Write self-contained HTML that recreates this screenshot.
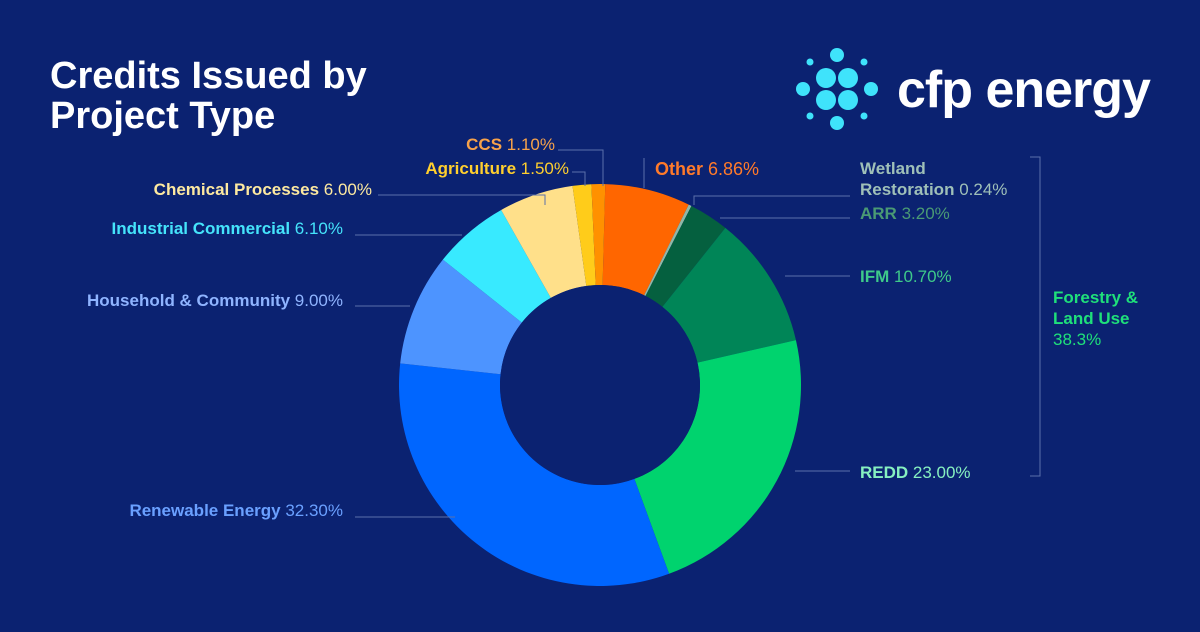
<!DOCTYPE html>
<html><head><meta charset="utf-8"><style>
body{margin:0;width:1200px;height:627px;background:#0b2271;overflow:hidden;font-family:"Liberation Sans",sans-serif}
</style></head><body>
<svg id="s" width="1200" height="627" xmlns="http://www.w3.org/2000/svg">
<rect width="1200" height="627" fill="#0b2271"/>
<text x="50" y="88" fill="#fff" font-size="38" font-weight="bold">Credits Issued by</text>
<text x="50" y="128" fill="#fff" font-size="38" font-weight="bold">Project Type</text>
<g fill="#3fe3fb">
<circle cx="837" cy="55" r="7"/><circle cx="837" cy="123" r="7"/>
<circle cx="803" cy="89" r="7"/><circle cx="871" cy="89" r="7"/>
<circle cx="810" cy="62" r="3.5"/><circle cx="864" cy="62" r="3.5"/>
<circle cx="810" cy="116" r="3.5"/><circle cx="864" cy="116" r="3.5"/>
<circle cx="826" cy="78" r="10"/><circle cx="848" cy="78" r="10"/>
<circle cx="826" cy="100" r="10"/><circle cx="848" cy="100" r="10"/>
</g>
<text x="897" y="107" fill="#fff" font-size="52" font-weight="bold" letter-spacing="-1">cfp energy</text>
<g id="pie"></g>
<g stroke="#5b70aa" stroke-width="1" fill="none">
<polyline points="558,150 603,150 603,186"/>
<polyline points="572,172 585,172 585,186"/>
<polyline points="378,195 545,195 545,205"/>
<line x1="355" y1="235" x2="462" y2="235"/>
<line x1="355" y1="306" x2="410" y2="306"/>
<line x1="355" y1="517" x2="455" y2="517"/>
<line x1="644" y1="158" x2="644" y2="188"/>
<polyline points="694,205 694,196 850,196"/>
<line x1="720" y1="218" x2="850" y2="218"/>
<line x1="785" y1="276" x2="850" y2="276"/>
<line x1="795" y1="471" x2="850" y2="471"/>
<polyline points="1030,157 1040,157 1040,476 1030,476"/>
</g>
<g font-size="17">
<text x="555" y="150" text-anchor="end" fill="#f7a24a"><tspan font-weight="bold">CCS</tspan> 1.10%</text>
<text x="569" y="174" text-anchor="end" fill="#ffcf2e"><tspan font-weight="bold">Agriculture</tspan> 1.50%</text>
<text x="372" y="195" text-anchor="end" fill="#fde9a0"><tspan font-weight="bold">Chemical Processes</tspan> 6.00%</text>
<text x="343" y="234" text-anchor="end" fill="#45e4fb"><tspan font-weight="bold">Industrial Commercial</tspan> 6.10%</text>
<text x="343" y="306" text-anchor="end" fill="#8fb4ff"><tspan font-weight="bold">Household &amp; Community</tspan> 9.00%</text>
<text x="343" y="516" text-anchor="end" fill="#6aa0ff"><tspan font-weight="bold">Renewable Energy</tspan> 32.30%</text>
<text x="655" y="175" fill="#ff7a2a" font-size="18"><tspan font-weight="bold">Other</tspan> 6.86%</text>
<text x="860" y="174" fill="#9fc0b8"><tspan font-weight="bold">Wetland</tspan></text>
<text x="860" y="195" fill="#9fc0b8"><tspan font-weight="bold">Restoration</tspan> 0.24%</text>
<text x="860" y="219" fill="#4a9a74"><tspan font-weight="bold">ARR</tspan> 3.20%</text>
<text x="860" y="282" fill="#3ec98a"><tspan font-weight="bold">IFM</tspan> 10.70%</text>
<text x="860" y="478" fill="#86f0c0"><tspan font-weight="bold">REDD</tspan> 23.00%</text>
<text x="1053" y="303" fill="#1fe07a" font-weight="bold">Forestry &amp;</text>
<text x="1053" y="324" fill="#1fe07a" font-weight="bold">Land Use</text>
<text x="1053" y="345" fill="#1fe07a">38.3%</text>
</g>
</svg>
<script>
var d=[[6.86,"#ff6600"],[0.24,"#8fb8a8"],[3.2,"#05603f"],[10.7,"#008557"],[23,"#00d36e"],[32.3,"#0066ff"],[9,"#4d94ff"],[6.1,"#38eaff"],[6,"#ffe08a"],[1.5,"#ffcc1a"],[1.1,"#ff9100"]];
var cx=600,cy=385,R=201,r=100,a=1.5,h="";
function p(ang,rad){var t=ang*Math.PI/180;return (cx+rad*Math.sin(t)).toFixed(2)+","+(cy-rad*Math.cos(t)).toFixed(2);}
d.forEach(function(e){var b=a+e[0]*3.6,l=e[0]>50?1:0;
h+='<path fill="'+e[1]+'" d="M'+p(a,R)+' A'+R+','+R+' 0 '+l+' 1 '+p(b,R)+' L'+p(b,r)+' A'+r+','+r+' 0 '+l+' 0 '+p(a,r)+'Z"/>';a=b;});
h+='<circle cx="600" cy="385" r="100" fill="#0b2271"/>';
document.getElementById("pie").innerHTML=h;
</script>
</body></html>
